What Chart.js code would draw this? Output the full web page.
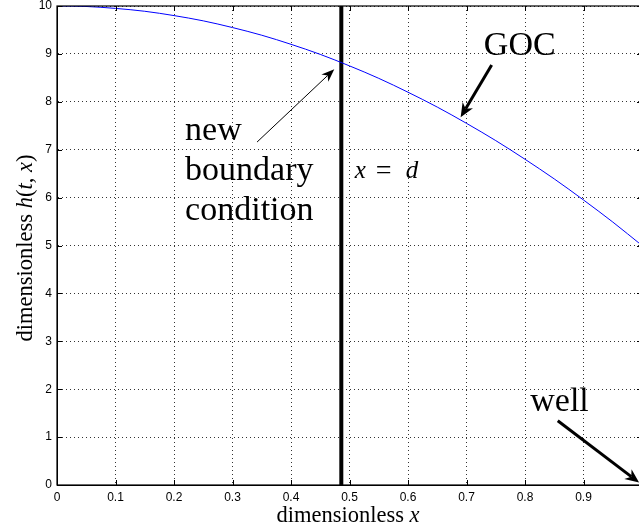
<!DOCTYPE html>
<html>
<head>
<meta charset="utf-8">
<script src="https://cdn.jsdelivr.net/npm/chart.js@4.4.1/dist/chart.umd.min.js"></script>
<style>
  html, body { margin:0; padding:0; background:#fff; overflow:hidden; }
  #wrap { position:absolute; left:0; top:0; width:645px; height:532px; }
</style>
</head>
<body>
<div id="wrap"><canvas id="c" width="645" height="532"></canvas></div>
<script>
// ---- data ----
const xValues = [0, 0.05, 0.1, 0.15, 0.2, 0.25, 0.3, 0.35, 0.4, 0.45, 0.5, 0.55, 0.6, 0.65, 0.7, 0.75, 0.8, 0.85, 0.9, 0.95, 1.0];
const hValues = [10, 9.99, 9.95, 9.89, 9.8, 9.69, 9.55, 9.39, 9.2, 8.99, 8.75, 8.49, 8.2, 7.89, 7.55, 7.19, 6.8, 6.39, 5.95, 5.49, 5.0];
const boundaryX = [0.486, 0.486];
const boundaryY = [0, 10];
const xTicks = [0, 0.1, 0.2, 0.3, 0.4, 0.5, 0.6, 0.7, 0.8, 0.9];
const yTicks = [0, 1, 2, 3, 4, 5, 6, 7, 8, 9, 10];

// annotation texts and anchors (data units)
const notes = [
  { text: 'GOC', x: 0.791, y: 8.98, align: 'center' },
  { text: 'new', x: 0.219, y: 7.2, align: 'left' },
  { text: 'boundary', x: 0.219, y: 6.37, align: 'left' },
  { text: 'condition', x: 0.219, y: 5.53, align: 'left' },
  { text: 'well', x: 0.809, y: 1.54, align: 'left' }
];
const arrows = [
  { from: [0.342, 7.16], to: [0.474, 8.68], width: 1 },
  { from: [0.743, 8.77], to: [0.690, 7.68], width: 3 },
  { from: [0.856, 1.34], to: [0.995, 0.05], width: 3 }
];

const curve = xValues.map((x, i) => ({ x: x, y: hValues[i] }));
const vline = boundaryX.map((x, i) => ({ x: x, y: boundaryY[i] }));

const SERIF = '"Liberation Serif", "Times New Roman", serif';

function drawArrow(ctx, x1, y1, x2, y2, w) {
  const ang = Math.atan2(y2 - y1, x2 - x1);
  const L = w > 1 ? 14 : 13, H = w > 1 ? 6 : 5;
  ctx.save();
  ctx.strokeStyle = '#000'; ctx.fillStyle = '#000';
  ctx.lineWidth = w; ctx.lineCap = 'butt';
  ctx.beginPath();
  ctx.moveTo(x1, y1);
  ctx.lineTo(x2 - Math.cos(ang) * L * 0.7, y2 - Math.sin(ang) * L * 0.7);
  ctx.stroke();
  ctx.translate(x2, y2); ctx.rotate(ang);
  ctx.beginPath();
  ctx.moveTo(0, 0);
  ctx.lineTo(-L, -H);
  ctx.lineTo(-L * 0.7, 0);
  ctx.lineTo(-L, H);
  ctx.closePath();
  ctx.fill();
  ctx.restore();
}

const decor = {
  id: 'decor',
  afterDatasetsDraw(chart) {
    const ctx = chart.ctx, xs = chart.scales.x, ys = chart.scales.y, a = chart.chartArea;
    ctx.save();
    // box
    ctx.strokeStyle = '#000'; ctx.lineWidth = 1.2;
    ctx.strokeRect(a.left, a.top, a.right - a.left, a.bottom - a.top);
    // inward tick marks
    ctx.lineWidth = 1;
    ctx.beginPath();
    xTicks.forEach(v => { const p = Math.round(xs.getPixelForValue(v)) + 0.5;
      ctx.moveTo(p, a.bottom); ctx.lineTo(p, a.bottom - 5);
      ctx.moveTo(p, a.top); ctx.lineTo(p, a.top + 5); });
    yTicks.forEach(v => { const p = Math.round(ys.getPixelForValue(v)) + 0.5;
      ctx.moveTo(a.left, p); ctx.lineTo(a.left + 5, p);
      ctx.moveTo(a.right, p); ctx.lineTo(a.right - 5, p); });
    ctx.stroke();
    // annotation texts
    ctx.fillStyle = '#000';
    ctx.textBaseline = 'alphabetic';
    ctx.font = '34px ' + SERIF;
    notes.forEach(n => {
      ctx.textAlign = n.align;
      ctx.fillText(n.text, xs.getPixelForValue(n.x), ys.getPixelForValue(n.y));
    });
    // x = d
    const bx = xs.getPixelForValue(0.509), by = ys.getPixelForValue(6.41);
    ctx.textAlign = 'left';
    ctx.font = 'italic 25px ' + SERIF;
    ctx.fillText('x', bx, by);
    ctx.font = '28px ' + SERIF;
    ctx.fillText('=', bx + 21, by + 1);
    ctx.font = 'italic 25px ' + SERIF;
    ctx.fillText('d', bx + 51, by);
    // arrows
    arrows.forEach(r => drawArrow(ctx,
      xs.getPixelForValue(r.from[0]), ys.getPixelForValue(r.from[1]),
      xs.getPixelForValue(r.to[0]), ys.getPixelForValue(r.to[1]), r.width));
    // axis titles
    const FS = '22.5px ';
    ctx.textAlign = 'left';
    const t1 = 'dimensionless ';
    ctx.font = FS + SERIF; const w1 = ctx.measureText(t1).width;
    ctx.font = 'italic ' + FS + SERIF; const w2 = ctx.measureText('x').width;
    let sx = 348 - (w1 + w2) / 2;
    ctx.font = FS + SERIF; ctx.fillText(t1, sx, 522);
    ctx.font = 'italic ' + FS + SERIF; ctx.fillText('x', sx + w1, 522);
    // y title rotated
    const parts = [['dimensionless ', false], ['h', true], ['(', false], ['t', true], [', ', false], ['x', true], [')', false]];
    let tot = 0;
    parts.forEach(p => { ctx.font = (p[1] ? 'italic ' : '') + FS + SERIF; p.w = ctx.measureText(p[0]).width; tot += p.w; });
    ctx.translate(32, 248); ctx.rotate(-Math.PI / 2);
    let px = -tot / 2;
    parts.forEach(p => { ctx.font = (p[1] ? 'italic ' : '') + FS + SERIF; ctx.fillText(p[0], px, 0); px += p.w; });
    ctx.restore();
  }
};

const tickFont = { family: '"Liberation Sans", Arial, sans-serif', size: 12 };

new Chart(document.getElementById('c'), {
  type: 'line',
  data: {
    datasets: [
      { data: curve, borderColor: '#0000ff', borderWidth: 1, pointRadius: 0, cubicInterpolationMode: 'monotone', fill: false },
      { data: vline, borderColor: '#000', borderWidth: 4, pointRadius: 0, fill: false, borderCapStyle: 'butt' }
    ]
  },
  plugins: [decor],
  options: {
    responsive: false,
    animation: false,
    events: [],
    layout: { padding: { left: 0, top: 6, right: 3, bottom: 0 } },
    plugins: { legend: { display: false }, tooltip: { enabled: false } },
    scales: {
      x: {
        type: 'linear', min: 0, max: 1,
        afterFit: s => { s.height = 47; s.paddingLeft = 0; s.paddingRight = 0; },
        afterBuildTicks: s => { s.ticks = xTicks.map(v => ({ value: v })); },
        ticks: { font: tickFont, color: '#000', padding: 5, maxRotation: 0, autoSkip: false,
                 callback: v => String(v) },
        grid: { color: '#333', lineWidth: 1, drawTicks: false },
        border: { display: true, color: '#000', dash: [1, 3] }
      },
      y: {
        type: 'linear', min: 0, max: 10,
        afterFit: s => { s.width = 57; s.paddingTop = 0; s.paddingBottom = 0; },
        afterBuildTicks: s => { s.ticks = yTicks.map(v => ({ value: v })); },
        ticks: { font: tickFont, color: '#000', padding: 5, autoSkip: false, callback: v => String(v) },
        grid: { color: '#333', lineWidth: 1, drawTicks: false },
        border: { display: true, color: '#000', dash: [1, 3] }
      }
    }
  }
});
</script>
</body>
</html>
